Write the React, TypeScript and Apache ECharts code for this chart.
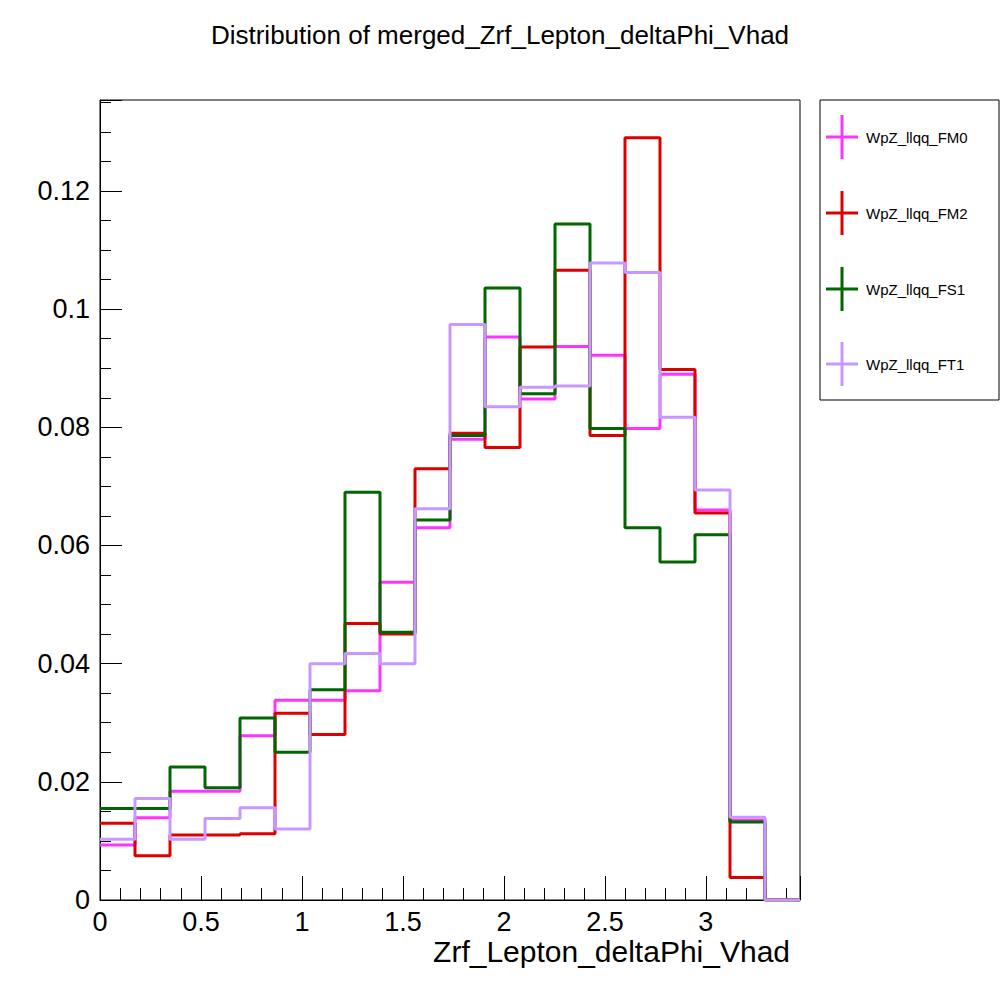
import React, { useEffect, useRef } from "react";
import * as echarts from "echarts";

const binWidth = 0.1733;
const nBins = 20;
const xMax = 3.466;
const yMax = 0.1354;

const seriesNames = ["WpZ_llqq_FM0", "WpZ_llqq_FM2", "WpZ_llqq_FS1", "WpZ_llqq_FT1"];
const colors = ["#ff33ff", "#dd0000", "#006600", "#c799ff"];

const fm0 = [0.0093, 0.0139, 0.0184, 0.0184, 0.0278, 0.0338, 0.0338, 0.0354, 0.0538, 0.063, 0.078, 0.0953, 0.0848, 0.0937, 0.0922, 0.0798, 0.089, 0.066, 0.0135, 0];
const fm2 = [0.013, 0.0075, 0.011, 0.011, 0.0112, 0.0316, 0.028, 0.0468, 0.045, 0.073, 0.079, 0.0766, 0.0936, 0.1066, 0.0786, 0.129, 0.0898, 0.0655, 0.0038, 0];
const fs1 = [0.0155, 0.0155, 0.0225, 0.019, 0.0308, 0.025, 0.0356, 0.069, 0.0453, 0.0643, 0.0786, 0.1036, 0.0857, 0.1144, 0.0798, 0.063, 0.0572, 0.0618, 0.0132, 0];
const ft1 = [0.0103, 0.0172, 0.0103, 0.0138, 0.0156, 0.012, 0.04, 0.0417, 0.04, 0.0662, 0.0974, 0.0835, 0.0868, 0.087, 0.1078, 0.1062, 0.0817, 0.0694, 0.014, 0];

const allValues = [fm0, fm2, fs1, ft1];

function stepData(vals: number[]) {
  const pts: number[][] = [];
  for (let i = 0; i < nBins; i++) pts.push([i * binWidth, vals[i]]);
  pts.push([nBins * binWidth, vals[nBins - 1]]);
  return pts;
}

export default function App() {
  const ref = useRef<HTMLDivElement>(null);
  useEffect(() => {
    const chart = echarts.init(ref.current!, null, { renderer: "svg" });
    const font = "Liberation Sans, Arial, sans-serif";
    const legendGraphics: any[] = [
      { type: "rect", shape: { x: 820, y: 100, width: 179, height: 300 }, style: { fill: "#fff", stroke: "#000", lineWidth: 1 } },
    ];
    const ys = [137, 213, 289, 364];
    seriesNames.forEach((n, i) => {
      legendGraphics.push(
        { type: "line", shape: { x1: 826, y1: ys[i], x2: 858, y2: ys[i] }, style: { stroke: colors[i], lineWidth: 3 } },
        { type: "line", shape: { x1: 842, y1: ys[i] - 22, x2: 842, y2: ys[i] + 22 }, style: { stroke: colors[i], lineWidth: 3 } },
        { type: "text", x: 866, y: ys[i], style: { text: n, font: `15px ${font}`, fill: "#000", verticalAlign: "middle" } }
      );
    });
    chart.setOption({
      animation: false,
      textStyle: { fontFamily: font },
      title: {
        text: "Distribution of merged_Zrf_Lepton_deltaPhi_Vhad",
        left: "center",
        top: 17,
        textStyle: { fontSize: 26, fontWeight: "normal", color: "#000", fontFamily: font },
      },
      grid: { left: 100, right: 200, top: 100, bottom: 100, show: true, borderColor: "#000", borderWidth: 1 },
      xAxis: {
        type: "value",
        min: 0,
        max: xMax,
        interval: 0.5,
        axisLine: { lineStyle: { color: "#000" } },
        axisTick: { inside: true, length: 24, lineStyle: { color: "#000" } },
        minorTick: { show: true, splitNumber: 5, length: 12, lineStyle: { color: "#000" } },
        splitLine: { show: false },
        axisLabel: { fontSize: 27, color: "#000", margin: 8, showMaxLabel: false, formatter: (v: number) => String(v) },
      },
      yAxis: {
        type: "value",
        min: 0,
        max: yMax,
        interval: 0.02,
        axisLine: { lineStyle: { color: "#000" } },
        axisTick: { inside: true, length: 22, lineStyle: { color: "#000" } },
        minorTick: { show: true, splitNumber: 4, length: 11, lineStyle: { color: "#000" } },
        splitLine: { show: false },
        axisLabel: { fontSize: 27, color: "#000", margin: 10, showMaxLabel: false, formatter: (v: number) => String(v) },
      },
      series: allValues.map((vals, i) => ({
        type: "line",
        name: seriesNames[i],
        step: "end",
        data: stepData(vals),
        symbol: "none",
        lineStyle: { color: colors[i], width: 3 },
      })),
      graphic: [
        { type: "text", right: 210, top: 936, style: { text: "Zrf_Lepton_deltaPhi_Vhad", font: `30px ${font}`, fill: "#000" } },
        ...legendGraphics,
      ],
    });
    return () => chart.dispose();
  }, []);
  return <div ref={ref} style={{ position: "absolute", left: 0, top: 0, width: 1000, height: 1000, background: "#fff" }} />;
}
